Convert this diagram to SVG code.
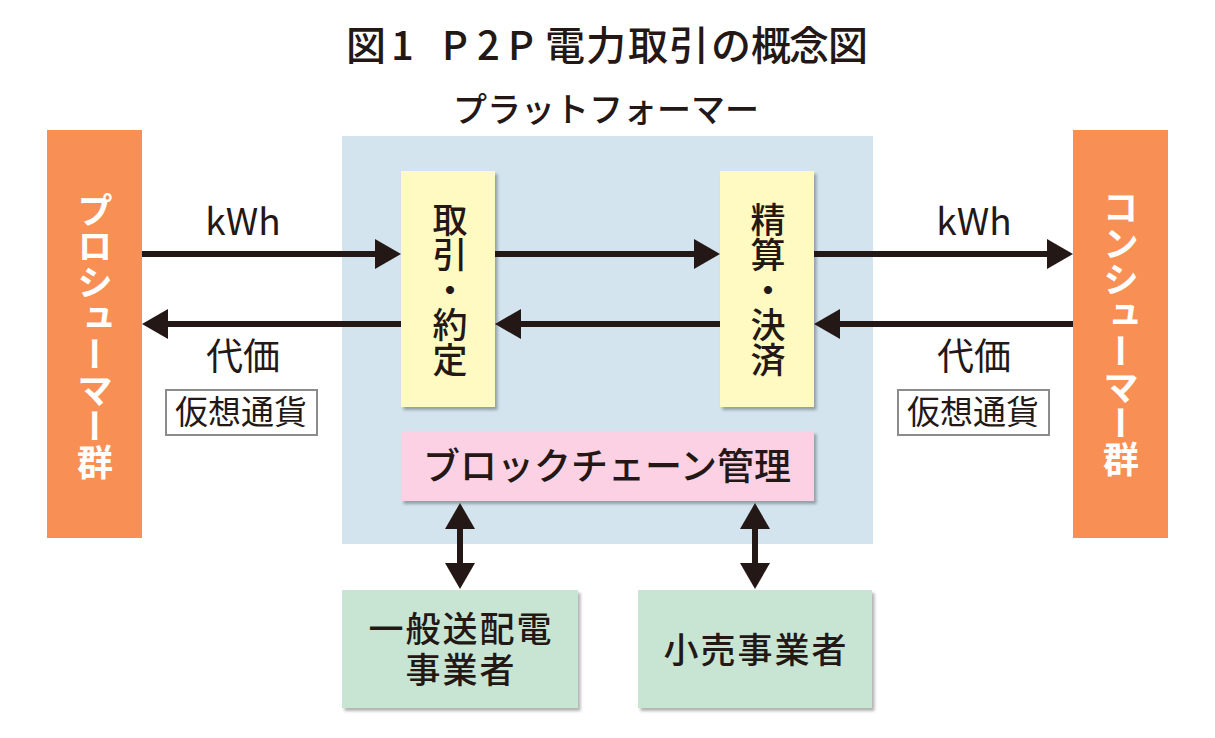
<svg xmlns="http://www.w3.org/2000/svg" width="1215" height="738" viewBox="0 0 1215 738">
<defs>
<style>
text{font-family:"Noto Sans CJK JP","Noto Sans CJK SC",sans-serif;fill:#231815}
.title{font-size:40px;font-weight:500}
.plat{font-size:34px;font-weight:500;text-anchor:middle}
.grp{font-size:36px;font-weight:700;fill:#fff;writing-mode:vertical-rl;text-anchor:middle}
.proc{font-size:35px;font-weight:500;writing-mode:vertical-rl;text-anchor:middle}
.lbl{font-size:37px;text-anchor:middle}
.cur{font-size:33px;text-anchor:middle}
.box{font-size:37px;font-weight:500;text-anchor:middle}
.gbox{font-size:35px;font-weight:500;text-anchor:middle;letter-spacing:2px}
.orange{fill:#F89055}
.yellow{fill:#FFFAC2}
.pink{fill:#FCD1E4}
.green{fill:#C8E5D3}
.vc{fill:#fff;stroke:#8C8C8C;stroke-width:2}
.arr{stroke:#231815;stroke-width:6;fill:none}
</style>
<filter id="sh" x="-10%" y="-10%" width="130%" height="130%">
<feDropShadow dx="2.5" dy="3" stdDeviation="1.5" flood-color="#000" flood-opacity="0.3"/>
</filter>
<marker id="ah" markerUnits="userSpaceOnUse" markerWidth="26" markerHeight="30" refX="6" refY="15" orient="auto-start-reverse" viewBox="0 0 26 30">
<path d="M0,0 L26,15 L0,30 z" fill="#231815"/>
</marker>
</defs>
<rect width="1215" height="738" fill="#fff"/>

<text class="title" x="346 391 420 442 477 508 545 586 628 669 711 751 789 828" y="60">図1 P2P電力取引の概念図</text>

<g id="platform">
<text class="plat" x="606" y="122">プラットフォーマー</text>
<rect x="342" y="136" width="531" height="408" fill="#D3E4EE"/>
</g>

<g id="prosumer">
<rect class="orange" x="47" y="130" width="95" height="408"/>
<text class="grp" x="95" y="336">プロシューマー群</text>
</g>

<g id="consumer">
<rect class="orange" x="1073" y="130" width="95" height="408"/>
<text class="grp" x="1121" y="333">コンシューマー群</text>
</g>

<g id="trade">
<rect class="yellow" x="401" y="171" width="94" height="236" filter="url(#sh)"/>
<text class="proc" x="450" y="290">取引・約定</text>
</g>

<g id="settle">
<rect class="yellow" x="720" y="171" width="94" height="236" filter="url(#sh)"/>
<text class="proc" x="768" y="290">精算・決済</text>
</g>

<g id="blockchain">
<rect class="pink" x="401" y="431" width="413" height="70" filter="url(#sh)"/>
<text class="box" x="607" y="480">ブロックチェーン管理</text>
</g>

<g id="tso">
<rect class="green" x="342" y="590" width="236" height="118" filter="url(#sh)"/>
<text class="gbox"><tspan x="461" y="642">一般送配電</tspan><tspan x="461" y="683">事業者</tspan></text>
</g>

<g id="retail">
<rect class="green" x="638" y="590" width="234" height="118" filter="url(#sh)"/>
<text class="gbox" x="756" y="663">小売事業者</text>
</g>

<g id="connectors">
<line class="arr" x1="142" y1="254" x2="381" y2="254" marker-end="url(#ah)"/>
<line class="arr" x1="401" y1="324" x2="162" y2="324" marker-end="url(#ah)"/>
<line class="arr" x1="495" y1="254" x2="700" y2="254" marker-end="url(#ah)"/>
<line class="arr" x1="720" y1="324" x2="515" y2="324" marker-end="url(#ah)"/>
<line class="arr" x1="814" y1="254" x2="1053" y2="254" marker-end="url(#ah)"/>
<line class="arr" x1="1073" y1="324" x2="834" y2="324" marker-end="url(#ah)"/>
<line class="arr" x1="460" y1="523" x2="460" y2="569" marker-start="url(#ah)" marker-end="url(#ah)"/>
<line class="arr" x1="755" y1="523" x2="755" y2="569" marker-start="url(#ah)" marker-end="url(#ah)"/>
</g>

<g id="labels">
<text class="lbl" x="243" y="235">kWh</text>
<text class="lbl" x="243" y="370">代価</text>
<rect class="vc" x="166" y="390" width="151" height="45"/>
<text class="cur" x="241" y="424">仮想通貨</text>
<text class="lbl" x="974" y="235">kWh</text>
<text class="lbl" x="974" y="370">代価</text>
<rect class="vc" x="898" y="390" width="151" height="45"/>
<text class="cur" x="973" y="424">仮想通貨</text>
</g>
</svg>
